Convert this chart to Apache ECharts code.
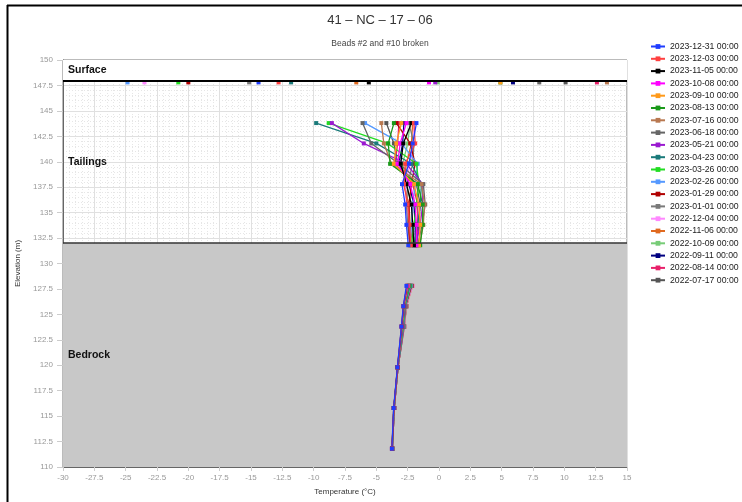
<!DOCTYPE html>
<html>
<head>
<meta charset="utf-8">
<script src="https://cdn.jsdelivr.net/npm/echarts@6/dist/echarts.min.js"></script>
<style>html,body{margin:0;padding:0;background:#fff}#c{width:742px;height:502px}</style>
</head>
<body>
<div id="c"></div>
<script>
// Bead elevations (m); beads #2 (145.8) and #10 (129.8) broken
const elevations = [147.8, 145.8, 143.8, 141.8, 139.8, 137.8, 135.8, 133.8, 131.8, 129.8, 127.8, 125.8, 123.8, 119.8, 115.8, 111.8];
const xTicks = { min: -30, max: 15, step: 2.5 };
const yTicks = { min: 110, max: 150, step: 2.5 };
const zones = [
  { name: 'Surface', from: 148, to: 150 },
  { name: 'Tailings', from: 132, to: 148 },
  { name: 'Bedrock', from: 110, to: 132 }
];
const dates = ['2023-12-31 00:00','2023-12-03 00:00','2023-11-05 00:00','2023-10-08 00:00','2023-09-10 00:00','2023-08-13 00:00','2023-07-16 00:00','2023-06-18 00:00','2023-05-21 00:00','2023-04-23 00:00','2023-03-26 00:00','2023-02-26 00:00','2023-01-29 00:00','2023-01-01 00:00','2022-12-04 00:00','2022-11-06 00:00','2022-10-09 00:00','2022-09-11 00:00','2022-08-14 00:00','2022-07-17 00:00'];
const colors = ['#1f3dff','#ff4040','#000000','#ff00ff','#ff9a1a','#1a9a1a','#b87850','#666666','#9a1ad0','#1a7a7a','#22dd22','#5599ff','#b00000','#7a7a7a','#ff88ff','#e06a20','#77cc77','#000080','#e8206a','#555555'];

// temperatures (°C) at each elevation, null = broken bead
const t_2023_12_31 = [-14.4, null, -1.8, -2.1, -2.4, -2.95, -2.7, -2.6, -2.45, null, -2.6, -2.85, -3.0, -3.32, -3.62, -3.76];
const t_2023_12_03 = [-12.8, null, -2.0, -1.9, -2.7, -2.8, -2.5, -2.35, -2.25, null, -2.55, -2.84, -2.99, -3.31, -3.61, -3.76];
const t_2023_11_05 = [-5.6, null, -2.2, -2.85, -3.05, -2.6, -2.2, -2.1, -2.0, null, -2.55, -2.83, -2.98, -3.31, -3.61, -3.75];
const t_2023_10_08 = [-0.8, null, -2.6, -3.1, -3.3, -2.3, -1.9, -1.8, -1.8, null, -2.5, -2.82, -2.97, -3.3, -3.6, -3.75];
const t_2023_09_10 = [4.9, null, -3.0, -3.4, -3.6, -2.0, -1.6, -1.5, -1.6, null, -2.5, -2.8, -2.96, -3.3, -3.6, -3.75];
const t_2023_08_13 = [4.9, null, -3.6, -4.05, -3.9, -1.7, -1.3, -1.3, -1.5, null, -2.45, -2.8, -2.95, -3.3, -3.6, -3.75];
const t_2023_07_16 = [13.4, null, -4.6, -4.4, -3.8, -1.4, -1.15, -1.25, -1.55, null, -2.45, -2.78, -2.93, -3.3, -3.6, -3.74];
const t_2023_06_18 = [8.0, null, -6.1, -5.4, -3.2, -1.25, -1.1, -1.35, -1.7, null, -2.4, -2.77, -2.92, -3.3, -3.6, -3.74];
const t_2023_05_21 = [-0.3, null, -8.55, -6.0, -2.6, -1.3, -1.3, -1.5, -1.85, null, -2.4, -2.76, -2.9, -3.29, -3.59, -3.74];
const t_2023_04_23 = [-11.8, null, -9.8, -5.0, -2.2, -1.4, -1.5, -1.7, -2.0, null, -2.35, -2.74, -2.87, -3.29, -3.59, -3.74];
const t_2023_03_26 = [-20.8, null, -8.8, -4.1, -1.8, -1.6, -1.8, -2.0, -2.2, null, -2.3, -2.72, -2.85, -3.29, -3.59, -3.74];
const t_2023_02_26 = [-24.85, null, -5.9, -3.0, -1.7, -1.9, -2.1, -2.2, -2.3, null, -2.25, -2.7, -2.82, -3.28, -3.58, -3.73];
const t_2023_01_29 = [-20.0, null, -3.4, -2.3, -1.9, -2.2, -2.4, -2.4, -2.35, null, -2.2, -2.68, -2.8, -3.28, -3.58, -3.73];
const t_2023_01_01 = [-15.15, null, -2.4, -2.0, -2.1, -2.5, -2.6, -2.5, -2.3, null, -2.15, -2.65, -2.78, -3.28, -3.58, -3.73];
const t_2022_12_04 = [-23.5, null, -2.0, -2.0, -2.3, -2.7, -2.6, -2.4, -2.2, null, -2.1, -2.62, -2.76, -3.28, -3.58, -3.73];
const t_2022_11_06 = [-6.6, null, -2.1, -2.2, -2.6, -2.8, -2.4, -2.3, -2.1, null, -2.1, -2.6, -2.76, -3.27, -3.57, -3.72];
const t_2022_10_09 = [-0.1, null, -2.3, -2.5, -2.9, -2.6, -2.2, -2.1, -2.0, null, -2.15, -2.6, -2.77, -3.27, -3.57, -3.72];
const t_2022_09_11 = [5.9, null, -2.8, -2.9, -3.2, -2.4, -2.0, -1.9, -1.9, null, -2.2, -2.6, -2.78, -3.27, -3.57, -3.72];
const t_2022_08_14 = [12.6, null, -3.2, -3.3, -3.5, -2.1, -1.7, -1.7, -1.8, null, -2.25, -2.62, -2.8, -3.27, -3.57, -3.72];
const t_2022_07_17 = [10.1, null, -4.2, -3.6, -3.3, -1.8, -1.5, -1.6, -1.8, null, -2.3, -2.65, -2.82, -3.27, -3.57, -3.72];

const temps = [t_2023_12_31, t_2023_12_03, t_2023_11_05, t_2023_10_08, t_2023_09_10, t_2023_08_13, t_2023_07_16, t_2023_06_18, t_2023_05_21, t_2023_04_23, t_2023_03_26, t_2023_02_26, t_2023_01_29, t_2023_01_01, t_2022_12_04, t_2022_11_06, t_2022_10_09, t_2022_09_11, t_2022_08_14, t_2022_07_17];

const FONT = 'Liberation Sans';
const chart = echarts.init(document.getElementById('c'), null, { renderer: 'canvas' });

const dataSeries = [];
for (let i = dates.length - 1; i >= 0; i--) {
  dataSeries.push({
    name: dates[i],
    type: 'line',
    xAxisIndex: 0, yAxisIndex: 0,
    data: temps[i].map((t, k) => [t === null ? '-' : t, elevations[k]]),
    connectNulls: false,
    symbol: 'rect',
    symbolSize: 4,
    showAllSymbol: true,
    lineStyle: { width: 1.3, color: colors[i] },
    itemStyle: { color: colors[i] },
    z: 4
  });
}

const bandSeries = {
  type: 'line', xAxisIndex: 0, yAxisIndex: 0, data: [], z: -1, silent: true,
  markArea: {
    silent: true,
    data: [
      [{ yAxis: zones[0].from, itemStyle: { color: '#ffffff' } }, { yAxis: zones[0].to }],
      [{ yAxis: zones[2].from, itemStyle: { color: '#c8c8c8' } }, { yAxis: zones[2].to }]
    ]
  }
};

const labelSeries = {
  type: 'line', xAxisIndex: 0, yAxisIndex: 0, data: [], z: 5, silent: true,
  markArea: {
    silent: true,
    itemStyle: { color: 'rgba(0,0,0,0)' },
    label: { show: true, position: 'insideLeft', distance: 5, color: '#111', fontWeight: 'bold', fontSize: 10.5, fontFamily: FONT, padding: [3, 0, 0, 0] },
    data: zones.map(z => [{ yAxis: z.from, name: z.name }, { yAxis: z.to }])
  },
  markLine: {
    silent: true, symbol: 'none', label: { show: false },
    data: [
      { yAxis: zones[1].to, lineStyle: { color: '#000', width: 2, type: 'solid' } },
      { yAxis: zones[1].from, lineStyle: { color: '#333', width: 1.5, type: 'solid' } }
    ]
  }
};

const option = {
  animation: false,
  backgroundColor: '#ffffff',
  title: [
    { text: '41 – NC – 17 – 06', left: 375, top: 9, textAlign: 'center',
      textStyle: { fontSize: 13, fontWeight: 'normal', color: '#333', fontFamily: FONT } },
    { text: 'Beads #2 and #10 broken', left: 375, top: 34, textAlign: 'center',
      textStyle: { fontSize: 8.5, fontWeight: 'normal', color: '#444', fontFamily: FONT } }
  ],
  legend: {
    orient: 'vertical', left: 645, top: 37,
    itemWidth: 14, itemHeight: 6, itemGap: 3.3,
    textStyle: { fontSize: 8.7, color: '#222', fontFamily: FONT },
    data: dates
  },
  grid: { left: 63, top: 60, width: 564, height: 407, show: true, borderColor: '#777', borderWidth: 1, backgroundColor: 'transparent' },
  xAxis: [
    { type: 'value', min: xTicks.min, max: xTicks.max, interval: xTicks.step, z: 0,
      name: 'Temperature (°C)', nameLocation: 'middle', nameGap: 21,
      nameTextStyle: { fontSize: 8, color: '#333', fontFamily: FONT },
      axisLine: { show: true, onZero: false, lineStyle: { color: '#666' } },
      axisTick: { show: true, length: 4, lineStyle: { color: '#ccc' } },
      axisLabel: { fontSize: 8, color: '#999', margin: 7, fontFamily: FONT },
      splitLine: { show: true, lineStyle: { color: '#e0e0e0', width: 1 } } },
    { type: 'value', min: xTicks.min, max: xTicks.max, interval: 0.5, z: -2, position: 'bottom',
      axisLine: { show: false }, axisTick: { show: false }, axisLabel: { show: false },
      splitLine: { show: true, lineStyle: { color: '#e6e6e6', width: 1, type: [1, 2] } } }
  ],
  yAxis: [
    { type: 'value', min: yTicks.min, max: yTicks.max, interval: yTicks.step, z: 0,
      name: 'Elevation (m)', nameLocation: 'middle', nameGap: 38,
      nameTextStyle: { fontSize: 8, color: '#333', fontFamily: FONT },
      axisLine: { show: true, onZero: false, lineStyle: { color: '#666' } },
      axisTick: { show: true, length: 6, lineStyle: { color: '#ccc' } },
      axisLabel: { fontSize: 8, color: '#999', margin: 10, fontFamily: FONT },
      splitLine: { show: true, lineStyle: { color: '#e0e0e0', width: 1 } } },
    { type: 'value', min: yTicks.min, max: yTicks.max, interval: 0.5, z: -2, position: 'left',
      axisLine: { show: false, onZero: false }, axisTick: { show: false }, axisLabel: { show: false },
      splitLine: { show: true, lineStyle: { color: '#e6e6e6', width: 1, type: [1, 2] } } }
  ],
  graphic: [
    { type: 'line', shape: { x1: 7, y1: 5.5, x2: 742, y2: 5.5 }, style: { stroke: '#000', lineWidth: 2 }, silent: true },
    { type: 'line', shape: { x1: 7.5, y1: 5, x2: 7.5, y2: 502 }, style: { stroke: '#000', lineWidth: 2 }, silent: true }
  ],
  series: [bandSeries, labelSeries].concat(dataSeries)
};
chart.setOption(option);
</script>
</body>
</html>
